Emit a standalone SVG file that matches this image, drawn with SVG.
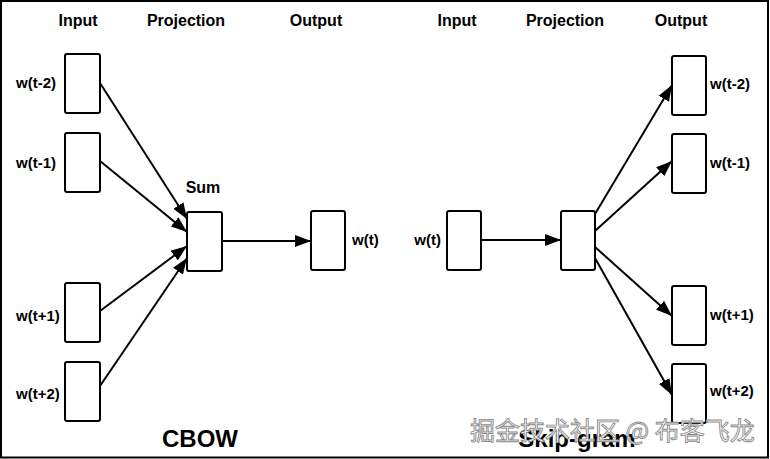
<svg xmlns="http://www.w3.org/2000/svg" width="770" height="459" viewBox="0 0 770 459">
<style>
.box{fill:#fff;stroke:#000;stroke-width:2}
.hdr{font-family:"Liberation Sans",Arial,sans-serif;font-weight:bold;font-size:16px;fill:#000}
.lbl{font-family:"Liberation Sans",Arial,sans-serif;font-weight:bold;font-size:15px;fill:#000}
.ttl{font-family:"Liberation Sans",Arial,sans-serif;font-weight:bold;font-size:24px;fill:#000}
.edge{stroke:#000;stroke-width:2;fill:none;marker-end:url(#arr)}
.wm{font-family:"Noto Sans CJK SC","Noto Sans",sans-serif;font-size:25px;fill:#fff;stroke:#8a8a8a;stroke-width:0.9}
</style>
<defs>
<marker id="arr" markerUnits="userSpaceOnUse" markerWidth="17" markerHeight="13" refX="16" refY="6.5" orient="auto">
<path d="M0,0.5 L16,6.5 L0,12.5 z" fill="#000"/>
</marker>
</defs>
<rect x="0" y="0" width="770" height="459" fill="#fff"/>
<rect x="1" y="1" width="767" height="456.5" fill="none" stroke="#000" stroke-width="2"/>

<g id="headers">
<text class="hdr" x="78" y="26" text-anchor="middle">Input</text>
<text class="hdr" x="186" y="26" text-anchor="middle">Projection</text>
<text class="hdr" x="316" y="26" text-anchor="middle">Output</text>
<text class="hdr" x="457" y="26" text-anchor="middle">Input</text>
<text class="hdr" x="565" y="26" text-anchor="middle">Projection</text>
<text class="hdr" x="681" y="26" text-anchor="middle">Output</text>
</g>

<g id="connectors">
<line class="edge" x1="100" y1="83" x2="187" y2="219"/>
<line class="edge" x1="100" y1="161" x2="187" y2="232"/>
<line class="edge" x1="100" y1="311" x2="187" y2="246"/>
<line class="edge" x1="100" y1="386" x2="187" y2="258"/>
<line class="edge" x1="222" y1="241" x2="311" y2="241"/>
<line class="edge" x1="481" y1="240" x2="561" y2="240"/>
<line class="edge" x1="595" y1="214" x2="672" y2="85"/>
<line class="edge" x1="595" y1="231" x2="672" y2="161"/>
<line class="edge" x1="595" y1="247" x2="672" y2="316"/>
<line class="edge" x1="595" y1="258" x2="672" y2="395"/>
</g>

<g id="cbow-in-t-2"><rect class="box" x="65" y="54" width="35" height="59" rx="2"/><text class="lbl" x="16" y="88">w(t-2)</text></g>
<g id="cbow-in-t-1"><rect class="box" x="65" y="133" width="35" height="59" rx="2"/><text class="lbl" x="16" y="168">w(t-1)</text></g>
<g id="cbow-in-t+1"><rect class="box" x="65" y="283" width="35" height="59" rx="2"/><text class="lbl" x="16" y="321">w(t+1)</text></g>
<g id="cbow-in-t+2"><rect class="box" x="65" y="362" width="35" height="59" rx="2"/><text class="lbl" x="16" y="399">w(t+2)</text></g>
<g id="cbow-sum"><rect class="box" x="187" y="212" width="35" height="59" rx="2"/><text class="lbl" x="203" y="193" text-anchor="middle" style="font-size:16px">Sum</text></g>
<g id="cbow-out"><rect class="box" x="311" y="211" width="34" height="59" rx="2"/><text class="lbl" x="352" y="245">w(t)</text></g>
<g id="cbow-title"><text class="ttl" x="200" y="447" text-anchor="middle">CBOW</text></g>

<g id="sg-in"><rect class="box" x="447" y="211" width="34" height="59" rx="2"/><text class="lbl" x="441" y="245" text-anchor="end">w(t)</text></g>
<g id="sg-proj"><rect class="box" x="561" y="211" width="34" height="59" rx="2"/></g>
<g id="sg-out-t-2"><rect class="box" x="672" y="56" width="34" height="59" rx="2"/><text class="lbl" x="710" y="89">w(t-2)</text></g>
<g id="sg-out-t-1"><rect class="box" x="672" y="134" width="34" height="59" rx="2"/><text class="lbl" x="710" y="168">w(t-1)</text></g>
<g id="sg-out-t+1"><rect class="box" x="672" y="286" width="34" height="59" rx="2"/><text class="lbl" x="710" y="320">w(t+1)</text></g>
<g id="sg-out-t+2"><rect class="box" x="672" y="364" width="34" height="59" rx="2"/><text class="lbl" x="710" y="396">w(t+2)</text></g>
<g id="sg-title"><text class="ttl" x="577" y="447" text-anchor="middle">Skip-gram</text></g>

<g id="watermark"><text class="wm" x="470" y="440">掘金技术社区 @ 布客飞龙</text></g>
</svg>
